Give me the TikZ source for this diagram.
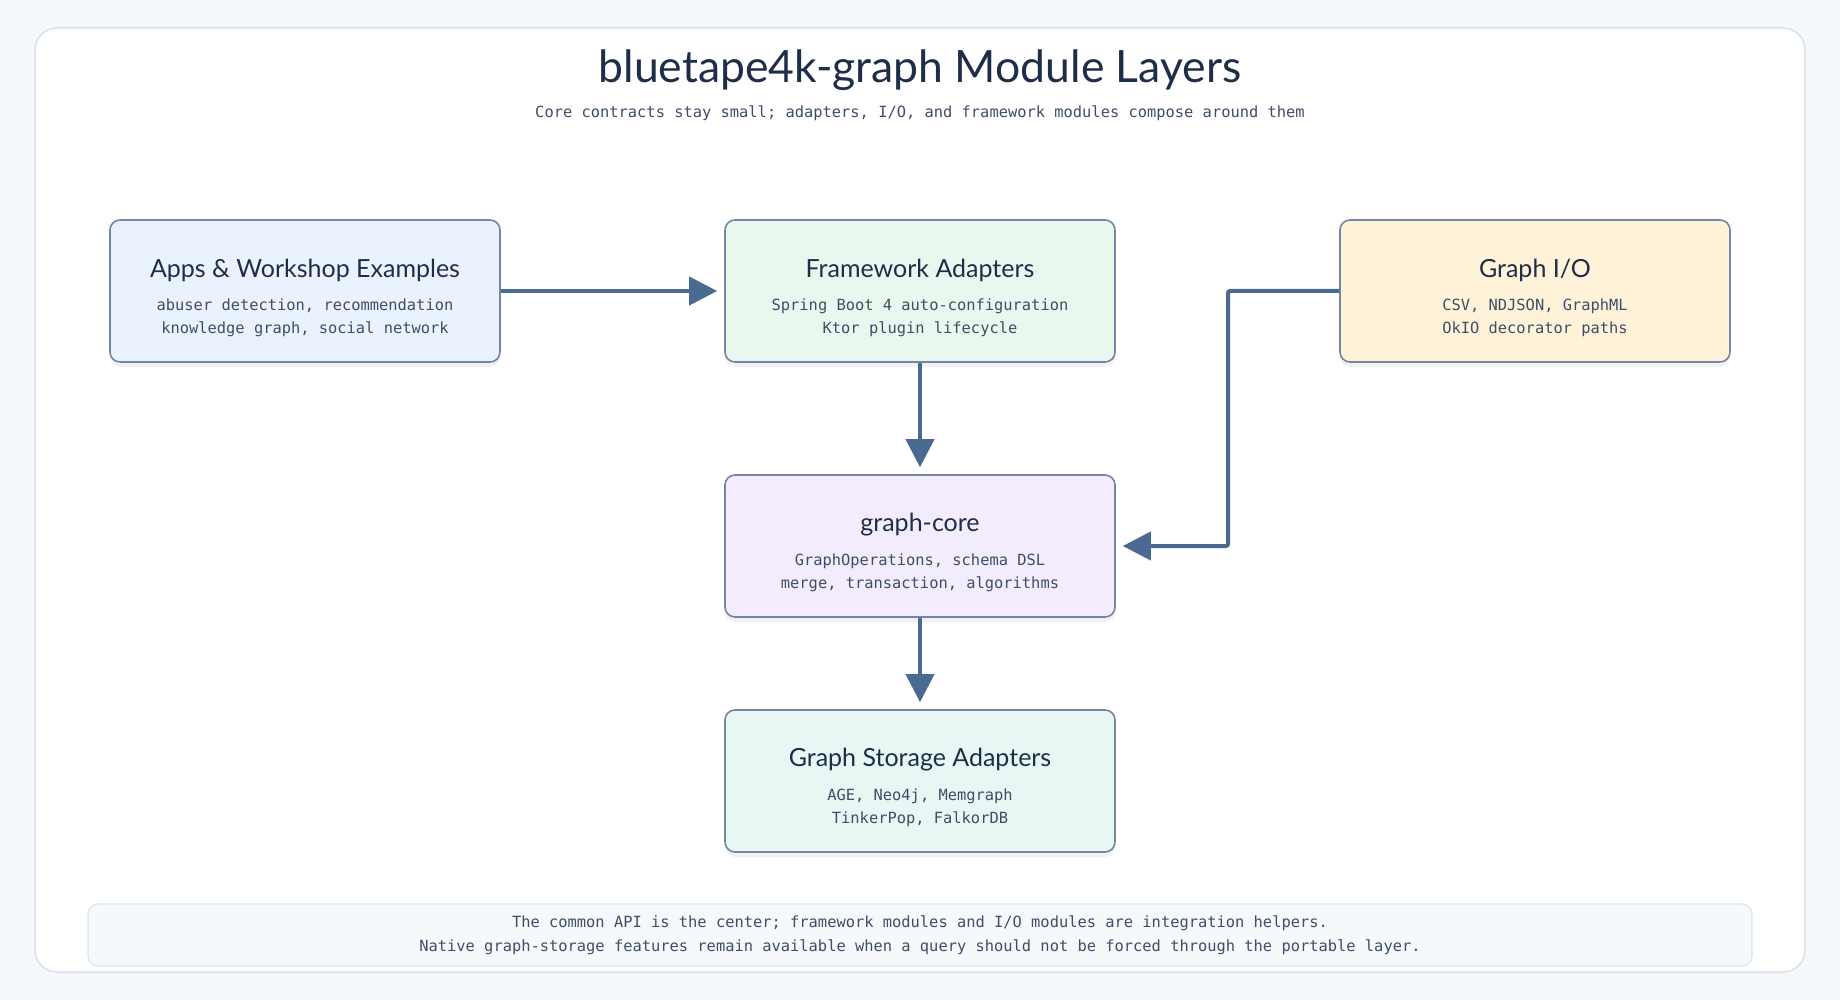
\documentclass[tikz,border=0pt]{standalone}
\usepackage{fontspec}
\setmainfont{Lato}
\setmonofont{DejaVu Sans Mono}
\usetikzlibrary{arrows.meta,shadows}
\definecolor{bgc}{HTML}{F5F8FB}
\definecolor{panelborder}{HTML}{D8E1EB}
\definecolor{boxborder}{HTML}{7386A3}
\definecolor{titlec}{HTML}{1F2E48}
\definecolor{bodyc}{HTML}{3E4E66}
\definecolor{arrowc}{HTML}{4A6A91}
\definecolor{fillapps}{HTML}{EAF3FD}
\definecolor{fillfw}{HTML}{EAF7EF}
\definecolor{fillio}{HTML}{FEF3D9}
\definecolor{fillcore}{HTML}{F2ECFD}
\definecolor{fillstore}{HTML}{E8F7F4}
\definecolor{footfill}{HTML}{F5F9FC}
\definecolor{footborder}{HTML}{DCE5EE}
\begin{document}
\begin{tikzpicture}[x=1pt,y=-1pt,
  layerbox/.style={draw=boxborder,line width=1.6pt,rounded corners=10pt,minimum width=390pt,minimum height=142pt,
    drop shadow={opacity=0.10,shadow xshift=0pt,shadow yshift=-5pt}},
  boxtitle/.style={text=titlec,font=\fontsize{25}{29}\selectfont},
  boxline/.style={text=bodyc,font=\ttfamily\fontsize{15.4}{18}\selectfont},
  conn/.style={draw=arrowc,line width=4pt,-{Triangle[length=28pt,width=28pt]}},
]
\useasboundingbox (0,0) rectangle (1840,1000);
\fill[bgc] (0,0) rectangle (1840,1000);
\draw[panelborder,fill=white,line width=1.5pt,rounded corners=22pt] (35,28) rectangle (1805,972);

\node[text=titlec,font=\fontsize{44.5}{50}\selectfont] (title) at (920,70) {bluetape4k-graph Module Layers};
\node[boxline] (subtitle) at (920,113) {Core contracts stay small; adapters, I/O, and framework modules compose around them};

% boxes
\node[layerbox,fill=fillapps] (apps) at (305,291) {};
\node[boxtitle] (appsT) at (305,270) {Apps \& Workshop Examples};
\node[boxline] (appsA) at (305,306) {abuser detection, recommendation};
\node[boxline] (appsB) at (305,329) {knowledge graph, social network};

\node[layerbox,fill=fillfw] (fw) at (920,291) {};
\node[boxtitle] (fwT) at (920,270) {Framework Adapters};
\node[boxline] (fwA) at (920,306) {Spring Boot 4 auto-configuration};
\node[boxline] (fwB) at (920,329) {Ktor plugin lifecycle};

\node[layerbox,fill=fillio] (io) at (1535,291) {};
\node[boxtitle] (ioT) at (1535,270) {Graph I/O};
\node[boxline] (ioA) at (1535,306) {CSV, NDJSON, GraphML};
\node[boxline] (ioB) at (1535,329) {OkIO decorator paths};

\node[layerbox,fill=fillcore] (core) at (920,546) {};
\node[boxtitle] (coreT) at (920,525) {graph-core};
\node[boxline] (coreA) at (920,561) {GraphOperations, schema DSL};
\node[boxline] (coreB) at (920,584) {merge, transaction, algorithms};

\node[layerbox,fill=fillstore] (store) at (920,781) {};
\node[boxtitle] (storeT) at (920,760) {Graph Storage Adapters};
\node[boxline] (storeA) at (920,796) {AGE, Neo4j, Memgraph};
\node[boxline] (storeB) at (920,819) {TinkerPop, FalkorDB};

% connectors
\draw[conn] (apps.east) -- ([xshift=-7pt]fw.west);
\draw[conn] (fw.south) -- ([yshift=7pt]core.north);
\draw[conn] (core.south) -- ([yshift=7pt]store.north);
\coordinate (bend1) at (1228,291);
\coordinate (bend2) at (1228,546);
\draw[conn,rounded corners=2pt] (io.west) -- (bend1) -- (bend2) -- ([xshift=7pt]core.east);

% footer
\draw[footborder,fill=footfill,line width=1.2pt,rounded corners=10pt] (88,904) rectangle (1752,966);
\node[boxline] (footA) at (920,923) {The common API is the center; framework modules and I/O modules are integration helpers.};
\node[boxline] (footB) at (920,947) {Native graph-storage features remain available when a query should not be forced through the portable layer.};
\end{tikzpicture}
\end{document}
